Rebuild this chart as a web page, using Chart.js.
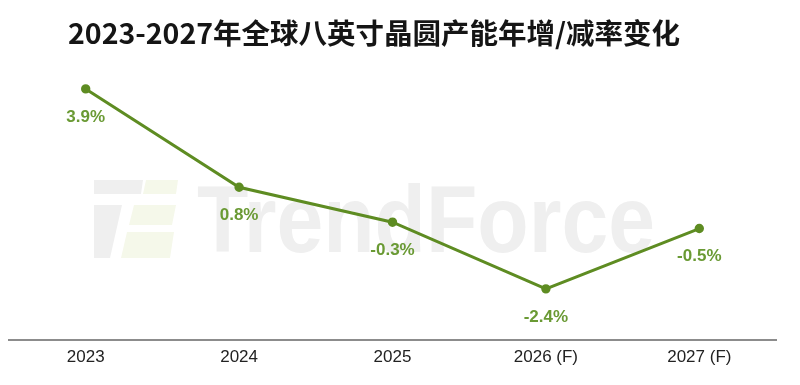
<!DOCTYPE html>
<html>
<head>
<meta charset="utf-8">
<script src="https://cdn.jsdelivr.net/npm/chart.js@4/dist/chart.umd.min.js"></script>
<style>
html,body{margin:0;padding:0;background:#fff;}
#wrap{position:relative;width:800px;height:385px;}
#title{position:absolute;left:68px;top:13px;font-family:"Noto Sans CJK SC","Noto Sans",sans-serif;font-weight:bold;font-size:28.5px;color:#151515;white-space:nowrap;line-height:38px;}
canvas{position:absolute;left:0;top:0;}
</style>
</head>
<body>
<div id="wrap">
<canvas id="c" width="800" height="385"></canvas>
<div id="title">2023-2027年全球八英寸晶圆产能年增/减率变化</div>
</div>
<script>
const categories = ["2023", "2024", "2025", "2026 (F)", "2027 (F)"];
const growthRate = [3.9, 0.8, -0.3, -2.4, -0.5];
const valueLabels = ["3.9%", "0.8%", "-0.3%", "-2.4%", "-0.5%"];

function poly(ctx, pts, color) {
  ctx.fillStyle = color;
  ctx.beginPath();
  ctx.moveTo(pts[0][0], pts[0][1]);
  for (let i = 1; i < pts.length; i++) ctx.lineTo(pts[i][0], pts[i][1]);
  ctx.closePath();
  ctx.fill();
}

const watermark = {
  id: 'watermark',
  beforeDatasetsDraw(chart) {
    const ctx = chart.ctx;
    ctx.save();
    const g = '#efefef', gr = '#f5f8ea';
    poly(ctx, [[94,180],[143,180],[141,194],[94,194]], g);
    poly(ctx, [[94,205],[122,205],[110,258],[94,258]], g);
    poly(ctx, [[146,180],[178,180],[176,194],[143,194]], gr);
    poly(ctx, [[134,205],[176,205],[172,225],[129,225]], gr);
    poly(ctx, [[127,232],[174,232],[170,258],[121,258]], gr);
    ctx.fillStyle = '#efefef';
    ctx.font = 'bold 94px "Liberation Sans", Arial, sans-serif';
    ctx.textAlign = 'left';
    ctx.textBaseline = 'alphabetic';
    ctx.fillText('TrendForce', 197, 252, 458);
    ctx.restore();
  }
};

const labelPlugin = {
  id: 'valueLabels',
  afterDatasetsDraw(chart) {
    const ctx = chart.ctx;
    const meta = chart.getDatasetMeta(0);
    ctx.save();
    ctx.fillStyle = '#6a9a34';
    ctx.font = 'bold 17px "Liberation Sans", Arial, sans-serif';
    ctx.textAlign = 'center';
    ctx.textBaseline = 'middle';
    meta.data.forEach((pt, i) => {
      ctx.fillText(valueLabels[i], pt.x, pt.y + 28);
    });
    ctx.restore();
  }
};

new Chart(document.getElementById('c'), {
  type: 'line',
  data: {
    labels: categories,
    datasets: [{
      data: growthRate,
      borderColor: '#5e8c22',
      backgroundColor: '#5e8c22',
      borderWidth: 3,
      pointRadius: 3.2,
      pointHoverRadius: 3.2,
      tension: 0,
      fill: false
    }]
  },
  options: {
    responsive: false,
    animation: false,
    events: [],
    layout: { padding: { left: 9, right: 24, top: 54, bottom: 9 } },
    plugins: { legend: { display: false }, tooltip: { enabled: false }, title: { display: false } },
    scales: {
      x: {
        offset: true,
        grid: { display: false, drawTicks: false },
        border: { display: true, color: '#8c8c8c', width: 2 },
        ticks: { color: '#222', padding: 8, font: { family: '"Liberation Sans", Arial, sans-serif', size: 17 } }
      },
      y: {
        display: false,
        min: -4,
        max: 5
      }
    }
  },
  plugins: [watermark, labelPlugin]
});
</script>
</body>
</html>
